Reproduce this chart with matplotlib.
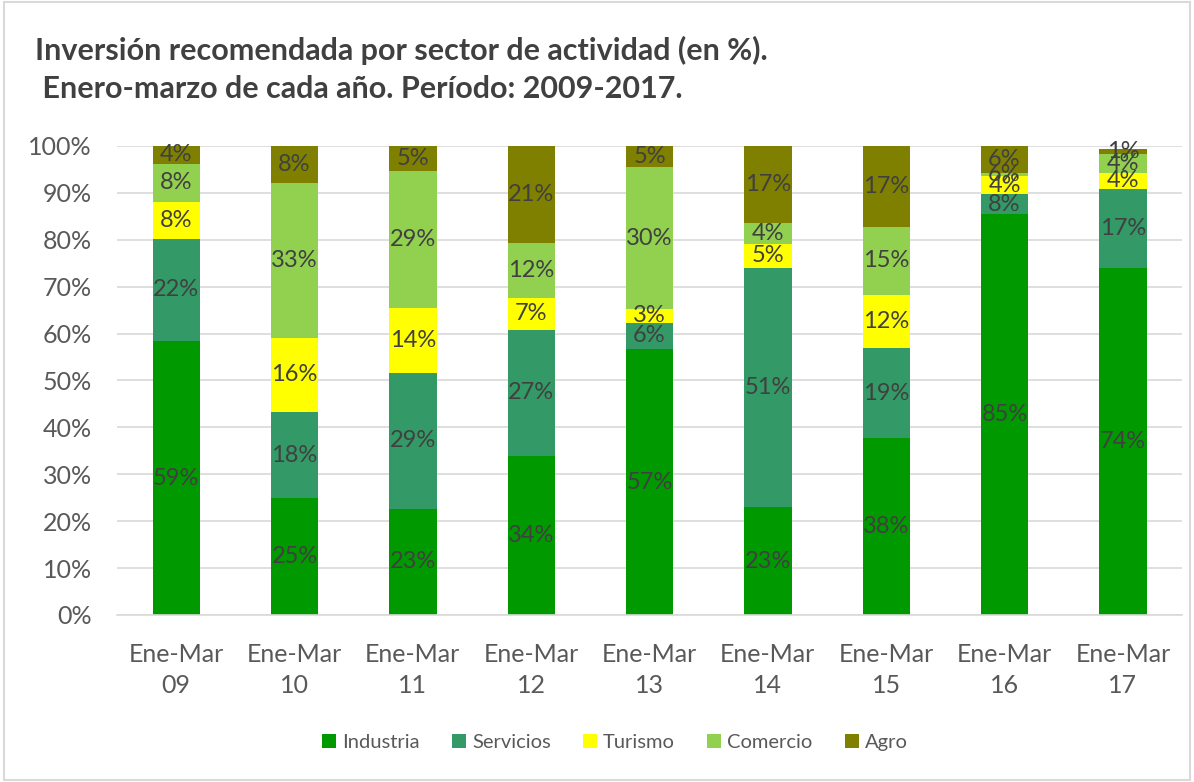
import numpy as np
import matplotlib.pyplot as plt
from matplotlib.patches import Rectangle

plt.rcParams['font.family'] = ['Lato', 'DejaVu Sans']

categories = ['Ene-Mar\n09', 'Ene-Mar\n10', 'Ene-Mar\n11', 'Ene-Mar\n12', 'Ene-Mar\n13',
              'Ene-Mar\n14', 'Ene-Mar\n15', 'Ene-Mar\n16', 'Ene-Mar\n17']
sectors = ['Industria', 'Servicios', 'Turismo', 'Comercio', 'Agro']

# segment heights (%) as drawn
industria = [58.4, 24.9, 22.6, 33.9, 56.7, 23.0, 37.7, 85.4, 74.0]
servicios = [21.8, 18.4, 29.0, 26.9, 5.6, 51.0, 19.2, 4.3, 16.8]
turismo = [7.9, 15.8, 13.9, 6.8, 2.9, 5.1, 11.3, 3.8, 3.5]
comercio = [8.1, 33.0, 29.2, 11.7, 30.3, 4.4, 14.6, 0.8, 4.0]
agro = [3.8, 7.9, 5.3, 20.7, 4.5, 16.6, 17.2, 5.7, 1.1]

# data labels as printed on the chart
lab_industria = [59, 25, 23, 34, 57, 23, 38, 85, 74]
lab_servicios = [22, 18, 29, 27, 6, 51, 19, 8, 17]
lab_turismo = [8, 16, 14, 7, 3, 5, 12, 4, 4]
lab_comercio = [8, 33, 29, 12, 30, 4, 15, 6, 4]
lab_agro = [4, 8, 5, 21, 5, 17, 17, 6, 1]

colors = ['#009900', '#339966', '#ffff00', '#92d050', '#808000']

series = [industria, servicios, turismo, comercio, agro]
labels = [lab_industria, lab_servicios, lab_turismo, lab_comercio, lab_agro]

fig = plt.figure(figsize=(11.94, 7.82), dpi=100)
ax = fig.add_axes([0.098, 0.2136, 0.892, 0.5997])

x = np.arange(len(categories))
bottom = np.zeros(len(categories))
for name, vals, labs, col in zip(sectors, series, labels, colors):
    vals = np.array(vals)
    ax.bar(x, vals, 0.4, bottom=bottom, color=col, label=name, zorder=2)
    for xi, b, v, l in zip(x, bottom, vals, labs):
        ax.text(xi, b + v / 2, f'{l}%', ha='center', va='center', fontsize=17,
                color='#404040', zorder=3)
    bottom += vals

ax.set_xlim(-0.5, len(categories) - 0.5)
ax.set_ylim(0, 100)
ax.set_yticks(np.arange(0, 101, 10))
ax.set_yticklabels([f'{v}%' for v in range(0, 101, 10)])
ax.set_xticks(x)
ax.set_xticklabels(categories, linespacing=1.45)
ax.tick_params(axis='both', length=0, labelsize=18, colors='#595959')
ax.tick_params(axis='x', pad=20)
ax.tick_params(axis='y', pad=18)
ax.grid(axis='y', color='#d9d9d9', linewidth=1.2, zorder=0)
for s in ['top', 'right', 'left']:
    ax.spines[s].set_visible(False)
ax.spines['bottom'].set_color('#d9d9d9')
ax.spines['bottom'].set_linewidth(1.2)

fig.text(0.029, 0.935, 'Inversión recomendada por sector de actividad (en %).',
         fontsize=22, fontweight='bold', color='#404040', va='center')
fig.text(0.029, 0.886, ' Enero-marzo de cada año. Período: 2009-2017.',
         fontsize=22, fontweight='bold', color='#404040', va='center')

fig.legend(loc='center', bbox_to_anchor=(0.515, 0.05), ncol=5, frameon=False,
           fontsize=14.5, handlelength=0.7, handleheight=0.7, handletextpad=0.3,
           columnspacing=1.6, labelcolor='#595959')

fig.patches.append(Rectangle((0.003, 0.003), 0.994, 0.994, transform=fig.transFigure,
                             fill=False, edgecolor='#d9d9d9', linewidth=1.5))

fig.savefig('out.png', dpi=100)
